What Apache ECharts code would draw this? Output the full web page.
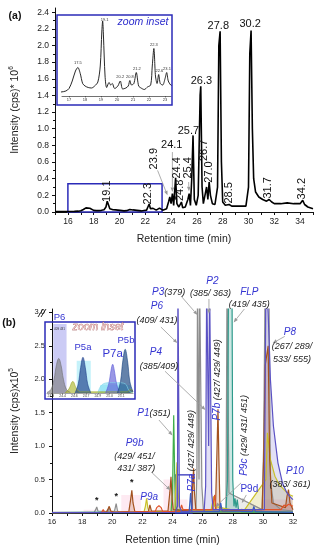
<!DOCTYPE html>
<html><head><meta charset="utf-8">
<script src="https://cdn.jsdelivr.net/npm/echarts@6/dist/echarts.min.js"></script>
<style>html,body{margin:0;padding:0;background:#fff}#c{width:318px;height:550px}</style>
</head><body><div id="c"></div>
<script>
// ================= DATA =================
// Panel (a): total ion chromatogram, [retention time (min), intensity (cps x 10^6)]
const aXLabels = [16,18,20,22,24,26,28,30,32,34];
const aYLabels = [0,0.2,0.4,0.6,0.8,1.0,1.2,1.4,1.6,1.8,2.0,2.2,2.4];
const aTrace = [
 [15.0,0.005],[15.5,0.005],[16.0,0.006],[16.5,0.008],[16.8,0.01],[17.0,0.015],[17.2,0.03],[17.4,0.05],[17.55,0.057],
 [17.7,0.045],[17.85,0.025],[18.0,0.02],[18.2,0.017],[18.4,0.016],[18.6,0.02],[18.8,0.028],[18.95,0.06],[19.05,0.13],
 [19.1,0.15],[19.15,0.12],[19.25,0.04],[19.35,0.017],[19.5,0.027],[19.6,0.022],[19.7,0.025],[19.85,0.015],[20.05,0.02],
 [20.2,0.03],[20.35,0.014],[20.55,0.016],[20.7,0.02],[20.8,0.031],[20.9,0.022],[21.05,0.025],[21.2,0.047],[21.35,0.02],
 [21.5,0.016],[21.7,0.013],[21.9,0.018],[22.1,0.022],[22.2,0.06],[22.3,0.095],[22.4,0.04],[22.5,0.025],[22.6,0.043],
 [22.7,0.025],[22.85,0.022],[23.0,0.035],[23.1,0.047],[23.2,0.03],[23.35,0.022],[23.5,0.02],[23.65,0.04],[23.8,0.12],
 [23.9,0.18],[24.0,0.1],[24.1,0.22],[24.2,0.08],[24.35,0.41],[24.45,0.1],[24.6,0.06],[24.8,0.12],[24.9,0.05],[25.1,0.06],
 [25.3,0.15],[25.4,0.22],[25.5,0.08],[25.6,0.4],[25.7,0.92],[25.8,0.15],[25.95,0.08],[26.1,0.2],[26.25,1.4],[26.3,1.51],
 [26.4,0.3],[26.5,0.1],[26.65,0.22],[26.75,0.3],[26.85,0.15],[26.95,0.36],[27.05,0.2],[27.2,0.1],[27.4,0.09],[27.6,0.3],
 [27.7,2.0],[27.8,2.17],[27.9,0.6],[28.0,0.12],[28.2,0.08],[28.5,0.09],[28.7,0.07],[29.0,0.07],[29.5,0.07],[29.8,0.07],
 [30.0,0.3],[30.1,1.9],[30.2,2.18],[30.3,1.0],[30.4,0.4],[30.55,0.24],[30.8,0.18],[31.1,0.15],[31.4,0.13],[31.6,0.15],
 [31.7,0.17],[31.8,0.12],[32.0,0.1],[32.5,0.1],[33.0,0.11],[33.5,0.1],[34.0,0.1],[34.2,0.14],[34.35,0.09],[34.6,0.06],[35.0,0.04]
];
const aPeakNames = ['19.1','22.3','23.9','24.1','24.4','24.8','25.4','25.7','26.3','26.7','27.0','27.8','28.5','30.2','31.7','34.2'];
const aInsetXLabels = [17,18,19,20,21,22,23];
const aInsetPeakNames = ['17.5','19.1','20.2','20.8','21.2','22.3','22.6','23.1'];

// Panel (b): extracted ion chromatograms, [retention time (min), intensity (cps x 10^5)]
const bXLabels = [16,18,20,22,24,26,28,30,32];
const bYLabels = [0,0.5,1.0,1.5,2.0,2.5,3.0];
const bPink = [[16,0],[18.1,0],[18.1,0.05],[19.0,0.05],[19.0,0],[20.6,0],[20.6,0.27],[21.9,0.27],[21.9,0],[23.4,0],[23.4,0.5],
 [24.1,0.5],[24.1,0.2],[25.0,0.2],[25.0,0],[30.0,0],[30.0,0.2],[32,0.2]];
const bGray = [[16,0.01],[18.8,0.01],[18.9,0.05],[18.97,0.09],[19.05,0.03],[19.15,0.01],[19.7,0.02],[19.8,0.08],[19.9,0.02],
 [20.15,0.03],[20.26,0.14],[20.35,0.03],[20.5,0.01],[23.8,0.01],[24.0,0.03],[24.2,0.02],[25.55,0.03],[25.62,0.6],[25.66,3.5],
 [25.72,3.5],[25.76,0.5],[25.8,3.5],[25.88,3.5],[25.95,0.4],[26.05,0.05],[27.55,0.05],[27.62,3.5],[27.68,3.5],[27.75,0.3],
 [29.95,0.05],[30.05,1.0],[30.15,3.5],[30.4,3.5],[30.5,0.5],[30.7,0.15],[31.2,0.05],[32,0.03]];
const bPurple = [[16,0.005],[24.2,0.01],[24.33,0.1],[24.36,3.5],[24.43,3.5],[24.46,0.1],[24.6,0.02],[26.1,0.03],[26.2,0.4],
 [26.27,3.5],[26.35,3.5],[26.4,1.0],[26.46,3.5],[26.55,3.5],[26.6,0.3],[26.7,0.05],[30.1,0.05],[30.2,3.5],[30.35,3.0],
 [30.5,2.0],[30.7,1.3],[31.0,0.75],[31.3,0.45],[31.6,0.3],[31.9,0.22],[32,0.2]];
const bTeal = [[16,0.005],[27.55,0.03],[27.65,0.5],[27.72,3.5],[27.95,3.5],[28.0,0.5],[28.08,0.1],[28.15,0.22],[28.22,0.08],
 [28.3,0.2],[28.38,0.05],[28.6,0.02],[32,0.01]];
const bGreen = [[16,0.005],[23.9,0.01],[24.0,0.3],[24.08,1.46],[24.15,0.5],[24.2,0.1],[24.3,0.05],[25.0,0.02],[32,0.01]];
const bOlive = [[16,0.005],[22.1,0.01],[22.2,0.1],[22.28,0.22],[22.36,0.08],[22.45,0.02],[24.15,0.02],[24.22,0.4],[24.3,0.76],
 [24.38,0.3],[24.45,0.1],[24.55,0.05],[26.55,0.03],[26.65,0.15],[26.72,0.25],[26.8,0.1],[28.5,0.02],[28.6,0.06],[28.7,0.02],
 [30.2,0.5],[30.3,1.2],[30.5,0.8],[30.8,0.55],[31.1,0.42],[31.4,0.35],[31.7,0.28],[32,0.25]];
const bBrown = [[16,0.005],[19.6,0.01],[19.7,0.05],[19.8,0.1],[19.9,0.03],[20.1,0.01],[21.1,0.02],[21.22,0.2],[21.3,0.34],
 [21.38,0.15],[21.5,0.02],[22.4,0.02],[22.5,0.12],[22.6,0.03],[23.7,0.03],[23.82,0.3],[23.9,0.54],[23.98,0.2],[24.05,0.05],
 [25.25,0.03],[25.34,0.4],[25.4,0.67],[25.46,0.3],[25.55,0.05],[26.85,0.05],[26.95,0.9],[27.02,1.55],[27.08,0.8],[27.15,0.1],
 [27.3,0.03],[29.95,0.05],[30.05,0.8],[30.15,2.2],[30.35,2.5],[30.45,0.8],[30.6,0.15],[31.5,0.08],[31.6,0.25],[31.7,0.35],
 [31.8,0.15],[32,0.05]];
const bOrange = [[16,0.005],[19.3,0.01],[19.4,0.05],[19.5,0.01],[22.85,0.02],[22.95,0.08],[23.1,0.11],[23.25,0.08],[23.35,0.02],
 [24.5,0.02],[24.6,0.12],[24.7,0.05],[26.65,0.05],[26.8,0.27],[26.9,0.05],[31.2,0.05],[31.4,0.12],[31.55,0.1],[31.7,0.13],[32,0.1]];
const bBlue = [[16,0.005],[25.1,0.01],[25.2,0.3],[25.28,0.02],[27.1,0.02],[27.2,0.15],[27.3,0.03],[29.3,0.02],[29.4,0.1],
 [29.5,0.02],[32,0.01]];
// Panel (b) zoom inset
const bInsetXLabels = [24.25,24.4,24.55,24.7,24.85,25.0,25.15];
const bInsetGray = [[24.2,0.005],[24.25,0.03],[24.29,0.12],[24.32,0.24],[24.35,0.3],[24.38,0.24],[24.41,0.12],[24.45,0.03],[24.5,0.005]];
const bInsetOlive = [[24.43,0],[24.48,0.035],[24.53,0.1],[24.58,0.035],[24.63,0.01],[25.22,0.01],[25.27,0.03],[25.3,0.02]];
const bInsetP5a = [[24.56,0],[24.6,0.08],[24.63,0.22],[24.66,0.31],[24.69,0.22],[24.72,0.08],[24.76,0]];
const bInsetCyan = [[24.85,0],[24.9,0.07],[25.0,0.09],[25.1,0.09],[25.2,0.08],[25.25,0.02],[25.3,0]];
const bInsetP7a = [[24.95,0],[24.99,0.08],[25.02,0.2],[25.04,0.25],[25.06,0.2],[25.09,0.08],[25.13,0]];
const bInsetP5b = [[25.1,0],[25.14,0.1],[25.17,0.28],[25.2,0.38],[25.23,0.28],[25.26,0.1],[25.3,0.01]];

// ================= CHART =================
const FONT = 'Liberation Sans, Arial, sans-serif';
const chart = echarts.init(document.getElementById('c'), null, {renderer:'canvas'});
const axisCommon = {axisLine:{lineStyle:{color:'#111',width:1}}, splitLine:{show:false}};
function lineSeries(data, xi, color, opts){
  return Object.assign({type:'line', xAxisIndex:xi, yAxisIndex:xi, data, symbol:'none', silent:true,
    lineStyle:{color, width:1.2}, itemStyle:{color}}, opts||{});
}
const option = {
  animation:false,
  textStyle:{fontFamily:FONT},
  grid:[
    {left:54, top:8, width:259, height:204},
    {left:62, top:17, width:109, height:79},
    {left:45, top:309, width:248, height:204},
    {left:47, top:324, width:86, height:69}
  ],
  xAxis:[
    Object.assign({type:'value', gridIndex:0, min:15, max:35, interval:1,
      axisTick:{length:3,lineStyle:{color:'#111'}},
      axisLabel:{customValues:aXLabels, fontSize:8.5, color:'#222', margin:5},
      name:'Retention time (min)', nameLocation:'middle', nameGap:22, nameTextStyle:{fontSize:10.5,color:'#222'}}, axisCommon),
    Object.assign({type:'value', gridIndex:1, min:16.56, max:23.37,
      axisTick:{customValues:aInsetXLabels, length:1.5, lineStyle:{color:'#333',width:0.6}},
      axisLabel:{customValues:aInsetXLabels, fontSize:4, color:'#333', margin:2},
      axisLine:{lineStyle:{color:'#333',width:0.7}}, splitLine:{show:false}}),
    Object.assign({type:'value', gridIndex:2, min:16, max:32, interval:1,
      axisTick:{length:3,lineStyle:{color:'#111'}},
      axisLabel:{customValues:bXLabels, fontSize:7.5, color:'#222', margin:5},
      name:'Retention time (min)', nameLocation:'middle', nameGap:22, nameTextStyle:{fontSize:10.5,color:'#222'}}, axisCommon),
    Object.assign({type:'value', gridIndex:3, min:24.2, max:25.3,
      axisTick:{customValues:bInsetXLabels, length:1.5, lineStyle:{color:'#555',width:0.5}},
      axisLabel:{customValues:bInsetXLabels, fontSize:3.5, color:'#444', margin:1.5, formatter:v=>v.toFixed(1)},
      axisLine:{lineStyle:{color:'#666',width:0.6}}, splitLine:{show:false}})
  ],
  yAxis:[
    Object.assign({type:'value', gridIndex:0, min:0, max:2.45, interval:0.2,
      axisTick:{customValues:aYLabels, length:3,lineStyle:{color:'#111'}},
      minorTick:{show:true, splitNumber:2, length:2, lineStyle:{color:'#111'}}, minorSplitLine:{show:false},
      axisLabel:{customValues:aYLabels, fontSize:8.5, color:'#222', margin:6, formatter:v=>v.toFixed(1)},
      name:'{n|Intensity (cps)* 10}{s|6}', nameLocation:'middle', nameGap:33,
      nameTextStyle:{fontSize:10,color:'#222', rich:{n:{fontSize:10.5,color:'#222'}, s:{fontSize:6.5,color:'#222',padding:[0,0,7,0]}}}}, axisCommon),
    {type:'value', gridIndex:1, min:0, max:0.158, show:false},
    Object.assign({type:'value', gridIndex:2, min:0, max:3.05, interval:0.5,
      axisTick:{customValues:bYLabels, length:3,lineStyle:{color:'#111'}},
      minorTick:{show:true, splitNumber:2, length:2, lineStyle:{color:'#111'}}, minorSplitLine:{show:false},
      axisLabel:{customValues:bYLabels, fontSize:7.5, color:'#222', margin:7, formatter:v=>v.toFixed(1)},
      name:'{n|Intensity (cps)x10}{s|5}', nameLocation:'middle', nameGap:30,
      nameTextStyle:{fontSize:10,color:'#222', rich:{n:{fontSize:10.5,color:'#222'}, s:{fontSize:6.5,color:'#222',padding:[0,0,7,0]}}}}, axisCommon),
    {type:'value', gridIndex:3, min:0, max:0.6, show:false}
  ],
  series:[
    lineSeries(aTrace, 0, '#000', {lineStyle:{color:'#000', width:1.6},
      markArea:{silent:true, itemStyle:{color:'rgba(0,0,0,0)', borderColor:'#2b2bb8', borderWidth:1.5},
        data:[[{coord:[16,0]},{coord:[23.3,0.34]}]]}}),
    lineSeries(aTrace, 1, '#111', {smooth:0.3, lineStyle:{color:'#111', width:0.9}}),
    lineSeries(bPink, 2, 'rgba(250,160,190,0)', {lineStyle:{width:0}, areaStyle:{color:'rgba(252,170,200,0.35)'}}),
    lineSeries(bGray, 2, '#8e8e8e', {areaStyle:{color:'rgba(140,140,140,0.25)'}}),
    lineSeries(bTeal, 2, '#2f9b8c', {areaStyle:{color:'rgba(47,155,140,0.35)'}}),
    lineSeries(bGreen, 2, '#3fae4a', {areaStyle:{color:'rgba(63,174,74,0.3)'}}),
    lineSeries(bOlive, 2, '#c9c02a', {areaStyle:{color:'rgba(190,180,40,0.3)'}}),
    lineSeries(bBrown, 2, '#a4521f', {areaStyle:{color:'rgba(164,82,31,0.3)'}}),
    lineSeries(bOrange, 2, '#e2542b', {areaStyle:{color:'rgba(226,84,43,0.15)'}}),
    lineSeries(bBlue, 2, '#3a5ec0', {areaStyle:{color:'rgba(58,94,192,0.25)'}}),
    lineSeries(bPurple, 2, '#5b52c4', {areaStyle:{color:'rgba(91,82,196,0.25)'},
      markArea:{silent:true, itemStyle:{color:'rgba(0,0,0,0)', borderColor:'#2b2bb8', borderWidth:1.3},
        data:[[{coord:[24.22,0]},{coord:[25.3,0.57]}]]}}),
    // inset (b)
    lineSeries(bInsetCyan, 3, '#7fd8ec', {smooth:0.4, lineStyle:{width:0.6,color:'#7fd8ec'}, areaStyle:{color:'rgba(120,220,240,0.8)'},
      markArea:{silent:true, itemStyle:{color:'rgba(150,232,246,0.55)'},
        data:[[{coord:[24.58,0]},{coord:[24.76,0.28]}],[{coord:[24.88,0]},{coord:[25.27,0.07]}]]}}),
    lineSeries(bInsetGray, 3, '#7d7d7d', {smooth:0.4, lineStyle:{width:0.6,color:'#6d6d6d'}, areaStyle:{color:'rgba(125,125,125,0.9)'},
      markArea:{silent:true, itemStyle:{color:'rgba(160,160,236,0.55)'}, data:[[{xAxis:24.28},{xAxis:24.45}]]}}),
    lineSeries(bInsetOlive, 3, '#a9b322', {smooth:0.4, lineStyle:{width:0.6,color:'#9aa520'}, areaStyle:{color:'rgba(170,180,40,0.9)'}}),
    lineSeries(bInsetP5a, 3, '#1d3f8c', {smooth:0.4, lineStyle:{width:0.6,color:'#1d3f8c'}, areaStyle:{color:'rgba(29,63,140,0.95)'}}),
    lineSeries(bInsetP7a, 3, '#5d5ad6', {smooth:0.4, lineStyle:{width:0.6,color:'#5d5ad6'}, areaStyle:{color:'rgba(93,90,214,0.9)'}}),
    lineSeries(bInsetP5b, 3, '#15427f', {smooth:0.4, lineStyle:{width:0.6,color:'#15427f'}, areaStyle:{color:'rgba(21,66,127,0.95)'}})
  ]
};
chart.setOption(option);

// ================= ANNOTATIONS (placed through the axes' scales) =================
const px = (g, p) => chart.convertToPixel({gridIndex:g}, p);
const els = [];
const BLUE = '#3535d2';
function label(g, p, text, style, rot){
  const q = px(g, p);
  els.push({type:'text', x:q[0], y:q[1], rotation: rot ? Math.PI/2 : 0, z:60, silent:true,
    style:Object.assign({text, align:'center', verticalAlign:'middle', fill:'#111', fontFamily:FONT, fontSize:10.5}, style||{})});
}
function arrow(g, a, b, color){
  const p1 = px(g, a), p2 = px(g, b);
  const ang = Math.atan2(p2[1]-p1[1], p2[0]-p1[0]);
  const L = 4.5, W = 1.8;
  const bx = p2[0]-L*Math.cos(ang), by = p2[1]-L*Math.sin(ang);
  const c = color || '#999';
  els.push({type:'line', z:55, silent:true, shape:{x1:p1[0], y1:p1[1], x2:bx, y2:by}, style:{stroke:c, lineWidth:0.8}});
  els.push({type:'polygon', z:55, silent:true, shape:{points:[[p2[0],p2[1]],[bx-W*Math.sin(ang), by+W*Math.cos(ang)],[bx+W*Math.sin(ang), by-W*Math.cos(ang)]]}, style:{fill:c}});
}
// panel (a) peak labels: [t, v, rotated]
const aLabelPos = {
  '19.1':[19.01,0.25,1], '22.3':[22.18,0.22,1], '23.9':[22.64,0.64,1], '24.1':[24.05,0.8,0],
  '24.4':[24.42,0.53,1], '24.8':[24.65,0.26,1], '25.4':[25.34,0.53,1], '25.7':[25.34,0.97,0],
  '26.3':[26.35,1.57,0], '26.7':[26.58,0.74,1], '27.0':[26.9,0.48,1], '27.8':[27.66,2.24,0],
  '28.5':[28.5,0.23,1], '30.2':[30.13,2.26,0], '31.7':[31.52,0.29,1], '34.2':[34.15,0.28,1]
};
aPeakNames.forEach(n => { const p = aLabelPos[n]; label(0, [p[0], p[1]], n, {fontSize:11}, p[2]); });
arrow(0, [22.95,0.5], [23.72,0.2]);
arrow(0, [24.1,0.72], [24.1,0.24]);
arrow(0, [25.36,0.36], [25.38,0.25]);
// inset (a) labels
const aInsetPos = {'17.5':[17.55,0.066], '19.1':[19.22,0.153], '20.2':[20.2,0.038], '20.8':[20.8,0.039], '21.2':[21.24,0.055],
  '22.3':[22.3,0.103], '22.6':[22.64,0.051], '23.1':[23.12,0.055]};
aInsetPeakNames.forEach(n => { const p = aInsetPos[n]; label(1, p, n, {fontSize:4, fill:'#333'}); });

// panel (b) annotations
const rich = {b:{fill:BLUE, fontStyle:'italic', fontSize:10, fontFamily:FONT}, k:{fill:'#222', fontStyle:'italic', fontSize:9, fontFamily:FONT}};
const bl = (p, t, rot) => label(2, p, t, {rich, fontSize:9}, rot);
bl([23.74,3.30], '{b|P3}{k|(379)}');
arrow(2, [24.58,3.24], [25.66,2.96]);
bl([26.65,3.46], '{b|P2}'); bl([26.52,3.28], '{k|(385/ 363)}');
arrow(2, [26.42,3.2], [26.42,2.98]);
bl([29.1,3.3], '{b|FLP}'); bl([29.1,3.12], '{k|(419/ 435)}');
arrow(2, [28.77,3.05], [28.06,2.85]);
bl([22.97,3.09], '{b|P6}'); bl([22.97,2.88], '{k|(409/ 431)}');
arrow(2, [23.23,2.78], [24.32,2.54]);
bl([31.8,2.7], '{b|P8}'); bl([31.94,2.49], '{k|(267/ 289/}'); bl([31.94,2.30], '{k|533/ 555)}');
arrow(2, [31.45,2.64], [30.65,2.54]);
bl([22.9,2.4], '{b|P4}'); bl([23.1,2.19], '{k|(385/409)}');
arrow(2, [23.5,2.12], [26.19,1.54]);
bl([26.97,1.99], '{b|P7b} {k|(427/ 429/ 449)}', 1);
bl([25.29,0.93], '{b|P7a} {k|(427/ 429/ 449)}', 1);
bl([28.77,1.16], '{b|P9c} {k|(429/ 431/ 451)}', 1);
arrow(2, [28.55,0.45], [26.84,0.09]);
bl([22.77,1.49], '{b|P1}{k|(351)}');
arrow(2, [23.1,1.39], [24.0,1.16]);
bl([21.48,1.04], '{b|P9b}'); bl([21.48,0.85], '{k|(429/ 451/}'); bl([21.6,0.67], '{k|431/ 387)}');
arrow(2, [22.65,0.6], [23.87,0.34]);
bl([22.45,0.24], '{b|P9a}');
label(2, [29.1,0.36], 'P9d', {fill:BLUE, fontSize:10});
arrow(2, [28.9,0.27], [28.6,0.15]);
bl([32.13,0.63], '{b|P10}'); bl([31.8,0.43], '{k|(383/ 361)}');
[[18.97,0.19],[20.26,0.25],[21.3,0.45]].forEach(p => label(2, p, '*', {fontSize:9, fontWeight:'bold'}));
// inset (b) labels
label(3, [24.36,0.66], 'P6', {fill:BLUE, fontSize:9.5});
label(3, [24.36,0.555], '409 431', {fill:'#333', fontSize:3});
label(3, [24.66,0.40], 'P5a', {fill:BLUE, fontSize:9.5});
label(3, [25.04,0.34], 'P7a', {fill:BLUE, fontSize:11.5});
label(3, [25.21,0.46], 'P5b', {fill:BLUE, fontSize:9.5});

// frames, titles
els.push({type:'rect', z:58, silent:true, shape:{x:57, y:15, width:115, height:90}, style:{fill:'none', stroke:'#2b2bb8', lineWidth:1.5}});
els.push({type:'rect', z:58, silent:true, shape:{x:45, y:322, width:90, height:77}, style:{fill:'none', stroke:'#2b2bb8', lineWidth:1.5}});
els.push({type:'text', x:143, y:22, z:60, silent:true, style:{text:'zoom inset', align:'center', verticalAlign:'middle', fill:'#2b2bcc', fontStyle:'italic', fontSize:10.5, fontFamily:FONT}});
els.push({type:'text', x:98, y:327, z:60, silent:true, style:{text:'zoom inset', align:'center', verticalAlign:'middle', fill:'#f2c9c9', stroke:'#8b3a3a', lineWidth:0.5, fontStyle:'italic', fontSize:10.5, fontFamily:FONT}});
els.push({type:'text', x:15, y:16, z:60, silent:true, style:{text:'(a)', align:'center', verticalAlign:'middle', fill:'#111', fontWeight:'bold', fontSize:10.5, fontFamily:FONT}});
els.push({type:'text', x:9, y:323, z:60, silent:true, style:{text:'(b)', align:'center', verticalAlign:'middle', fill:'#111', fontWeight:'bold', fontSize:10.5, fontFamily:FONT}});
els.push({type:'line', z:60, silent:true, shape:{x1:38, y1:317, x2:43, y2:309}, style:{stroke:'#111', lineWidth:0.9}});
els.push({type:'line', z:60, silent:true, shape:{x1:41, y1:317, x2:46, y2:309}, style:{stroke:'#111', lineWidth:0.9}});
chart.setOption({graphic:{elements:els}});
</script></body></html>
